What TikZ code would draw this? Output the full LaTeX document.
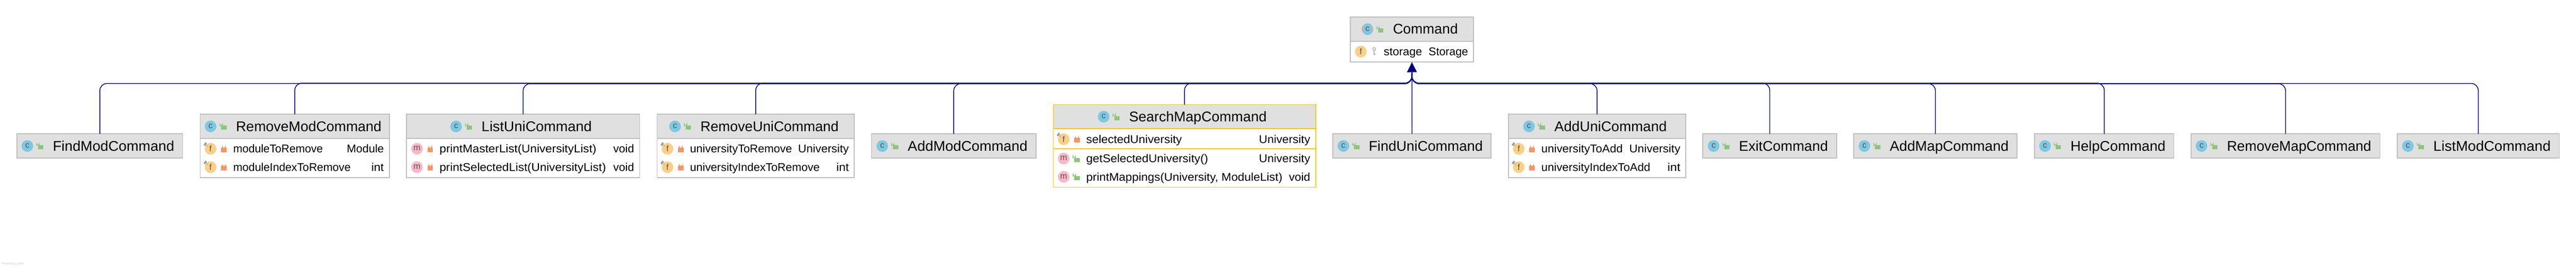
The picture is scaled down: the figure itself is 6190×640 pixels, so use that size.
\documentclass[tikz,border=0pt]{standalone}
\usepackage{graphicx}
\usepackage{fontspec}
\setmainfont{Liberation Sans}
\usetikzlibrary{arrows.meta}
\definecolor{navyline}{HTML}{000080}
\definecolor{boxline}{HTML}{BFBFBF}
\definecolor{headfill}{HTML}{E0E0E0}
\definecolor{selline}{HTML}{FFC800}
\definecolor{iconblue}{HTML}{7EC8E3}
\definecolor{iconorange}{HTML}{FBCF88}
\definecolor{iconpink}{HTML}{FFB8C8}
\definecolor{icongray}{HTML}{AEB9C0}
\definecolor{lockgreen}{HTML}{8DC57A}
\definecolor{lockred}{HTML}{F6946A}
\newcount\txtcnt
\newcommand{\bumpname}{\global\advance\txtcnt by 1\relax}
\newcommand{\fitw}[2]{\resizebox{#1pt}{\height}{#2}}
\tikzset{
  x=1pt,y=-1pt,
  classframe/.style={draw=#1,line width=2.2pt,inner sep=0pt,outer sep=0pt},
  titletext/.style={anchor=base west,inner sep=0pt,font=\fontsize{33.8}{40}\selectfont},
  membertext/.style={anchor=base west,inner sep=0pt,font=\fontsize{27}{32}\selectfont},
  typetext/.style={anchor=base east,inner sep=0pt,font=\fontsize{27}{32}\selectfont},
  glyphtext/.style={inner sep=0pt,text=black!68,font=\fontsize{20}{24}\selectfont},
  inherit/.style={draw=navyline,line width=1.8pt,rounded corners=17pt,shorten >=25pt},
}
% header: id x0 x1 y0 yh y1 iconx title border
\newcommand{\classbox}[9]{%
  \fill[white] (#2,#4) rectangle (#3,#6);
  \fill[headfill] (#2,#4) rectangle (#3,#5);
  \draw[#9,line width=2.2pt] (#2,#5) -- (#3,#5);
  \pgfmathsetmacro{\cxx}{(#2+#3)/2}\pgfmathsetmacro{\cyy}{(#4+#6)/2}%
  \pgfmathsetmacro{\wdd}{#3-#2}\pgfmathsetmacro{\htt}{#6-#4}%
  \node[classframe=#9,minimum width=\wdd pt,minimum height=\htt pt] (#1) at (\cxx,\cyy) {};
  \pgfmathsetmacro{\iyy}{(#4+#5)/2}%
  \iconC{#7}{\iyy}\lockopen{#7}{\iyy}%
  \pgfmathsetmacro{\tyy}{\iyy+11.5}\pgfmathsetmacro{\txx}{#7+61}%
  \node[titletext] (#1title) at (\txx,\tyy) {#8};
}
\newcommand{\iconC}[2]{%
  \fill[iconblue] (#1,#2) circle (14);
  \bumpname\node[glyphtext] (t\the\txtcnt) at (#1,#2-1) {c};}
\newcommand{\iconAbs}[2]{%
  \fill[icongray] (#1,#2) circle (14);
  \begin{scope}
    \clip (#1,#2) circle (14);
    \fill[iconblue] (#1-8,#2-14) rectangle (#1+8,#2+14);
  \end{scope}
  \bumpname\node[glyphtext] (t\the\txtcnt) at (#1,#2-1) {c};}
\newcommand{\lockopen}[2]{%
  \fill[lockgreen] (#1+25.5,#2-1.7) rectangle (#1+38.5,#2+8.3);
  \draw[lockgreen,line width=1.6pt] (#1+22.5,#2) -- (#1+22.5,#2-5.5) arc[start angle=180,end angle=0,radius=3] -- (#1+28.5,#2-2);}
\newcommand{\lockclosed}[2]{%
  \fill[lockred] (#1+25.5,#2-2.7) rectangle (#1+38.5,#2+8.3);
  \draw[lockred,line width=1.8pt] (#1+28.5,#2-2.7) -- (#1+28.5,#2-4.5) arc[start angle=180,end angle=0,radius=3.5] -- (#1+35.5,#2-2.7);}
\newcommand{\iconF}[2]{%
  \fill[iconorange] (#1,#2) circle (14);
  \bumpname\node[glyphtext] (t\the\txtcnt) at (#1,#2) {f};}
\newcommand{\iconFpin}[2]{%
  \iconF{#1}{#2}%
  \draw[icongray!85!black,line width=4.5pt] (#1-15,#2-8) -- (#1-10.5,#2-14.5);
  \draw[icongray!85!black,line width=1pt] (#1-11,#2-10) -- (#1-6.5,#2-6);}
\newcommand{\iconM}[2]{%
  \fill[iconpink] (#1,#2) circle (14);
  \bumpname\node[glyphtext] (t\the\txtcnt) at (#1,#2-1) {m};}
% row: x0 x1 cy iconmacro lockmacro name type
\newcommand{\memberrow}[7]{%
  \pgfmathsetmacro{\ixx}{#1+25}\pgfmathsetmacro{\byy}{#3+9.5}%
  \pgfmathsetmacro{\lxx}{#1+79}\pgfmathsetmacro{\rxx}{#2-13}%
  #4{\ixx}{#3}#5{\ixx}{#3}%
  \bumpname\node[membertext] (t\the\txtcnt) at (\lxx,\byy) {#6};
  \bumpname\node[typetext] (t\the\txtcnt) at (\rxx,\byy) {#7};}
\begin{document}
\begin{tikzpicture}
\useasboundingbox (0,0) rectangle (6190,640);
\fill[white] (0,0) rectangle (6190,640);

% Command
\fill[white] (3244.5,41) rectangle (3541,149);
\fill[headfill] (3244.5,41) rectangle (3541,99);
\draw[boxline,line width=2.2pt] (3244.5,99) -- (3541,99);
\node[classframe=boxline,minimum width=296.5pt,minimum height=108pt] (cmd) at (3392.75,95) {};
\iconAbs{3286}{70}
\fill[lockgreen] (3311.5,68) rectangle (3324.5,78);
\draw[lockgreen,line width=1.6pt] (3308.5,70) -- (3308.5,65) arc[start angle=180,end angle=0,radius=3] -- (3314.5,68);
\node[titletext] (cmdtitle) at (3347,81.7) {\fitw{156}{Command}};
\iconF{3270}{123.7}
\draw[icongray,line width=2pt] (3302,117.5) circle (3.5);
\draw[icongray,line width=3pt] (3302,121) -- (3302,133);
\draw[icongray,line width=2pt] (3302,130) -- (3306,130);
\node[membertext] (cmdfield) at (3325,133.2) {\fitw{92}{storage}};
\node[typetext] (cmdtype) at (3528,133.2) {\fitw{95}{Storage}};

% Classes
\classbox{findmod}{41}{439}{321}{379}{379}{65.7}{\fitw{292}{FindModCommand}}{boxline}
\classbox{removemod}{481}{935.6}{274}{332}{426}{506}{\fitw{349.5}{RemoveModCommand}}{boxline}
\memberrow{481}{935.6}{356.7}{\iconFpin}{\lockclosed}{\fitw{215.6}{moduleToRemove}}{\fitw{89}{Module}}
\memberrow{481}{935.6}{400.7}{\iconFpin}{\lockclosed}{\fitw{282.5}{moduleIndexToRemove}}{\fitw{30}{int}}
\classbox{listuni}{977}{1537}{274}{332}{426}{1096}{\fitw{265}{ListUniCommand}}{boxline}
\memberrow{977}{1537}{356.7}{\iconM}{\lockclosed}{\fitw{377}{printMasterList(UniversityList)}}{\fitw{50}{void}}
\memberrow{977}{1537}{400.7}{\iconM}{\lockclosed}{\fitw{400}{printSelectedList(UniversityList)}}{\fitw{50}{void}}
\classbox{removeuni}{1579}{2053}{274}{332}{426}{1622}{\fitw{332}{RemoveUniCommand}}{boxline}
\memberrow{1579}{2053}{356.7}{\iconFpin}{\lockclosed}{\fitw{245}{universityToRemove}}{\fitw{122}{University}}
\memberrow{1579}{2053}{400.7}{\iconFpin}{\lockclosed}{\fitw{311.5}{universityIndexToRemove}}{\fitw{30}{int}}
\classbox{addmod}{2094}{2489.5}{321}{379}{379}{2120}{\fitw{288}{AddModCommand}}{boxline}
\classbox{searchmap}{2531}{3161.5}{250.7}{308.7}{448.7}{2652}{\fitw{330.6}{SearchMapCommand}}{selline}
\memberrow{2531}{3161.5}{333.7}{\iconFpin}{\lockclosed}{\fitw{230}{selectedUniversity}}{\fitw{123}{University}}
\draw[selline,line width=2.2pt] (2531,356.7) -- (3161.5,356.7);
\memberrow{2531}{3161.5}{380}{\iconM}{\lockopen}{\fitw{293}{getSelectedUniversity()}}{\fitw{123}{University}}
\memberrow{2531}{3161.5}{424}{\iconM}{\lockopen}{\fitw{471.4}{printMappings(University, ModuleList)}}{\fitw{51}{void}}
\classbox{finduni}{3203}{3583}{321}{379}{379}{3228}{\fitw{274}{FindUniCommand}}{boxline}
\classbox{adduni}{3624.4}{4051}{274}{332}{426}{3674}{\fitw{270}{AddUniCommand}}{boxline}
\memberrow{3624.4}{4051}{356.7}{\iconFpin}{\lockclosed}{\fitw{195.7}{universityToAdd}}{\fitw{122.8}{University}}
\memberrow{3624.4}{4051}{400.7}{\iconFpin}{\lockclosed}{\fitw{262}{universityIndexToAdd}}{\fitw{31}{int}}
\classbox{exit}{4092}{4413}{321}{379}{379}{4117.6}{\fitw{213.7}{ExitCommand}}{boxline}
\classbox{addmap}{4454.5}{4847}{321}{379}{379}{4480}{\fitw{285.5}{AddMapCommand}}{boxline}
\classbox{help}{4889}{5223.6}{321}{379}{379}{4914}{\fitw{228.5}{HelpCommand}}{boxline}
\classbox{removemap}{5265}{5719}{321}{379}{379}{5290}{\fitw{346.7}{RemoveMapCommand}}{boxline}
\classbox{listmod}{5760.6}{6149.6}{321}{379}{379}{5786}{\fitw{282}{ListModCommand}}{boxline}

% Connectors
\coordinate (busa) at (3392.75,199.4);
\coordinate (busb) at (3392.75,200);
\coordinate (busc) at (3392.75,200.6);
\foreach \cid/\lane in {findmod/busb,removemod/busa,listuni/busc,removeuni/busa,addmod/busc,searchmap/busa,adduni/busc,exit/busa,addmap/busc,help/busa,removemap/busc,listmod/busb}{
  \draw[inherit] (\cid.north) -- (\cid.north |- \lane) -- (cmd.south |- \lane) -- (cmd.south);
}
\draw[draw=navyline,fill=navyline,line width=1.8pt,-{Triangle[length=24pt,width=23.5pt]}] (finduni.north) -- (cmd.south);

\node[anchor=base west,inner sep=0pt,text=black!22,font=\fontsize{6.4}{8}\selectfont] (credit) at (5,634) {Powered by yFiles};
\end{tikzpicture}
\end{document}
